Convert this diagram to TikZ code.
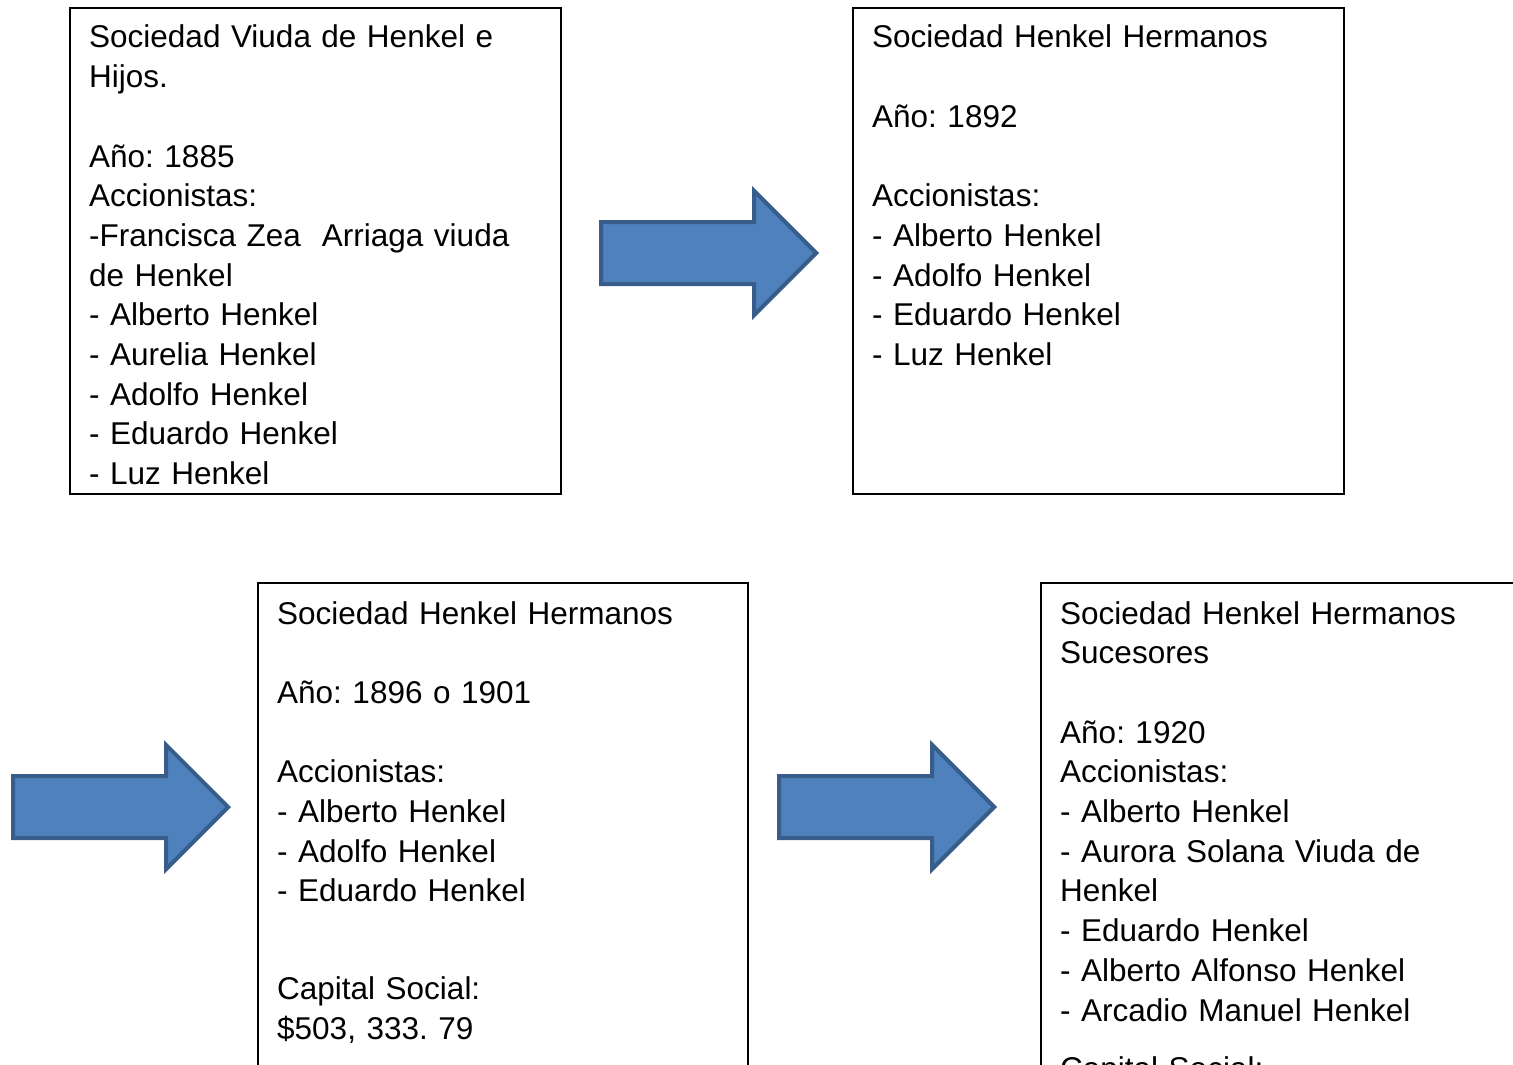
\documentclass[tikz,border=0pt]{standalone}
\usepackage{fontspec}
\setmainfont{Liberation Sans}
\usepackage{tikz}
\usetikzlibrary{positioning,shapes.arrows}
\definecolor{arrowfill}{HTML}{4F81BD}
\definecolor{arrowline}{HTML}{385D8A}
\frenchspacing

\begin{document}
\begin{tikzpicture}[
    x = 1pt,
    y = -1pt,
    box/.style={rectangle, draw, line width=1.6pt, anchor=north west, inner sep=0pt},
    txt/.style={anchor=base west, inner sep=0pt, text width=470pt, align=left,
        font=\fontsize{31.5}{39.7}\selectfont},
    bigarrow/.style={single arrow, draw=arrowline, fill=arrowfill, line width=4pt,
        inner xsep=0pt, inner ysep=29pt, minimum height=215pt,
        single arrow head extend=31pt, anchor=tip}
]
    \useasboundingbox (0,0) rectangle (1513,1065);
    \clip (0,0) rectangle (1513,1065);

    % boxes
    \node[box, minimum width=491pt, minimum height=486pt] (viuda) at (69,7) {};
    \node[box, minimum width=491pt, minimum height=486pt] (hermanos) at (852,7) {};
    \node[box, minimum width=490pt, minimum height=520pt] (hermanosb) at (257,582) {};
    \node[box, minimum width=520pt, minimum height=520pt] (sucesores) at (1040,582) {};

    % texts
    \node[txt] (tviuda) at ([shift={(20pt,-41pt)}]viuda.north west)
        {Sociedad Viuda de Henkel e\\ Hijos.\\[39.7pt]
         Año: 1885\\ Accionistas:\\ -Francisca Zea\ \ Arriaga viuda\\ de Henkel\\
         - Alberto Henkel\\ - Aurelia Henkel\\ - Adolfo Henkel\\
         - Eduardo Henkel\\ - Luz Henkel};
    \node[txt] (thermanos) at ([shift={(20pt,-41pt)}]hermanos.north west)
        {Sociedad Henkel Hermanos\\[39.7pt]
         Año: 1892\\[39.7pt]
         Accionistas:\\ - Alberto Henkel\\ - Adolfo Henkel\\
         - Eduardo Henkel\\ - Luz Henkel};
    \node[txt] (thermanosb) at ([shift={(20pt,-42pt)}]hermanosb.north west)
        {Sociedad Henkel Hermanos\\[39.7pt]
         Año: 1896 o 1901\\[39.7pt]
         Accionistas:\\ - Alberto Henkel\\ - Adolfo Henkel\\
         - Eduardo Henkel\\[58pt]
         Capital Social:\\ \$503, 333. 79};
    \node[txt] (tsucesores) at ([shift={(20pt,-42pt)}]sucesores.north west)
        {Sociedad Henkel Hermanos\\ Sucesores\\[39.7pt]
         Año: 1920\\ Accionistas:\\ - Alberto Henkel\\
         - Aurora Solana Viuda de\\ Henkel\\ - Eduardo Henkel\\
         - Alberto Alfonso Henkel\\ - Arcadio Manuel Henkel\\[19pt]
         Capital Social:};

    % arrows
    \node[bigarrow] (a1) at (819,253) {};
    \node[bigarrow] (a2) at (231,807) {};
    \node[bigarrow] (a3) at (997,807) {};
\end{tikzpicture}
\end{document}
